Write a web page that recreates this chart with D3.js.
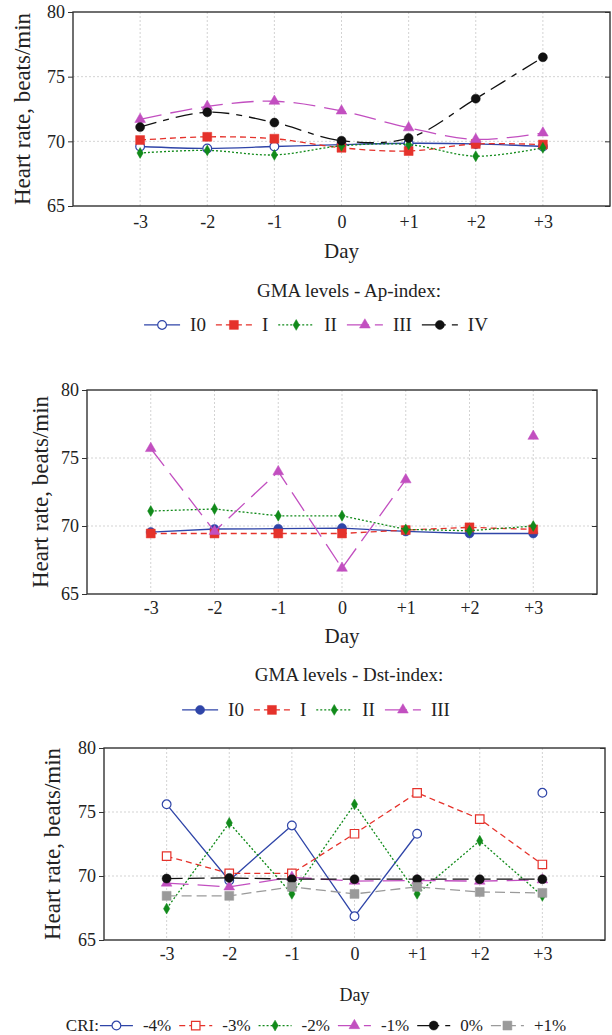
<!DOCTYPE html>
<html>
<head>
<meta charset="utf-8">
<script src="https://cdn.jsdelivr.net/npm/d3@7"></script>
<style>
body { margin: 0; background: #fff; }
text { font-family: "Liberation Serif", "Times New Roman", serif; fill: #222; }
</style>
</head>
<body>
<svg id="chart"></svg>
<script>
// x categories and y ticks shared by the three panels
const dayNums = [-3, -2, -1, 0, 1, 2, 3];
const dayLabels = ["-3", "-2", "-1", "0", "+1", "+2", "+3"];
const yTicks = [65, 70, 75, 80];

// panel 1: GMA levels by Ap-index
const apNames = ["I0", "I", "II", "III", "IV"];
const apI0 = [69.6, 69.45, 69.6, 69.75, 69.85, 69.8, 69.6];
const apI = [70.1, 70.35, 70.2, 69.5, 69.25, 69.8, 69.75];
const apII = [69.1, 69.3, 68.95, 69.65, 69.75, 68.85, 69.5];
const apIII = [71.7, 72.7, 73.1, 72.35, 71.05, 70.15, 70.65];
const apIV = [71.1, 72.25, 71.45, 70.05, 70.25, 73.3, 76.5];

// panel 2: GMA levels by Dst-index (null = no value)
const dstNames = ["I0", "I", "II", "III"];
const dstI0 = [69.55, 69.78, 69.8, 69.85, 69.6, 69.45, 69.45];
const dstI = [69.45, 69.45, 69.45, 69.45, 69.7, 69.9, 69.75];
const dstII = [71.1, 71.25, 70.75, 70.75, 69.75, 69.65, 70.0];
const dstIII = [75.7, 69.6, 74.0, 66.9, 73.4, null, 76.6];

// panel 3: CRI
const criNames = ["-4%", "-3%", "-2%", "-1%", "0%", "+1%"];
const criM4 = [75.6, 69.65, 73.95, 66.85, 73.3, null, 76.5];
const criM3 = [71.55, 70.2, 70.2, 73.3, 76.5, 74.45, 70.9];
const criM2 = [67.45, 74.15, 68.6, 75.6, 68.6, 72.75, 68.45];
const criM1 = [69.45, 69.15, 69.9, 69.6, 69.65, 69.6, 69.7];
const cri0 = [69.8, 69.85, 69.75, 69.75, 69.75, 69.75, 69.75];
const criP1 = [68.45, 68.45, 69.15, 68.6, 69.15, 68.75, 68.68];

const W = 612, H = 1035;
const svg = d3.select("#chart").attr("width", W).attr("height", H);

const blue = "#2f45a8", red = "#e5322b", green = "#118a1a",
      magenta = "#c24fc0", black = "#111", gray = "#9a9a9a";

const styles = {
  solid: null,
  dashed: "6,4",
  dotted: "2,2",
  longdash: "22,9",
  dashdot: "17,7,6,7",
  dash0: "16,6",
  grayDash: "10,5"
};

function marker(g, type, color, cx, cy) {
  const shapes = {
    circle: [d3.symbolCircle, 64],
    circleOpen: [d3.symbolCircle, 60],
    square: [d3.symbolSquare, 80],
    squareOpen: [d3.symbolSquare, 72],
    diamond: [d3.symbolDiamond, 34],
    triangle: [d3.symbolTriangle, 50]
  };
  const s = shapes[type];
  const open = type.endsWith("Open");
  g.append("path")
    .attr("d", d3.symbol().type(s[0]).size(s[1])())
    .attr("transform", "translate(" + cx + "," + cy + ")")
    .attr("fill", open ? "#fff" : color)
    .attr("stroke", color)
    .attr("stroke-width", open ? 1.2 : 0.5);
}

function drawPanel(p) {
  const x = d3.scaleLinear().domain([-4, 4]).range([p.left, p.right]);
  const y = d3.scaleLinear().domain([65, 80]).range([p.bottom, p.top]);
  const g = svg.append("g");

  // grid
  g.selectAll(".vg").data(dayNums).enter().append("line")
    .attr("x1", d => x(d)).attr("x2", d => x(d))
    .attr("y1", p.top).attr("y2", p.bottom)
    .attr("stroke", "#c8c8c8").attr("stroke-width", 0.8).attr("stroke-dasharray", "2,2");
  g.selectAll(".hg").data([70, 75]).enter().append("line")
    .attr("x1", p.left).attr("x2", p.right)
    .attr("y1", d => y(d)).attr("y2", d => y(d))
    .attr("stroke", "#c8c8c8").attr("stroke-width", 0.8).attr("stroke-dasharray", "2,2");

  // axes
  const yAxis = g.append("g").attr("transform", "translate(" + p.left + ",0)")
    .call(d3.axisLeft(y).tickValues(yTicks).tickSize(5).tickPadding(3));
  yAxis.select(".domain").remove();
  yAxis.selectAll("text").style("font-size", "18px").attr("fill", "#222");
  yAxis.selectAll("line").attr("stroke", "#333");

  const rAxis = g.append("g").attr("transform", "translate(" + p.right + ",0)")
    .call(d3.axisRight(y).tickValues(yTicks).tickSize(-5).tickFormat(""));
  rAxis.select(".domain").remove();
  rAxis.selectAll("line").attr("stroke", "#333");

  const xAxis = g.append("g").attr("transform", "translate(0," + p.bottom + ")")
    .call(d3.axisBottom(x).tickValues(dayNums).tickSize(0).tickPadding(p.xPad)
      .tickFormat((d, i) => dayLabels[i]));
  xAxis.select(".domain").remove();
  xAxis.selectAll("text").style("font-size", "18px").attr("fill", "#222");

  // frame
  g.append("rect")
    .attr("x", p.left).attr("y", p.top)
    .attr("width", p.right - p.left).attr("height", p.bottom - p.top)
    .attr("fill", "none").attr("stroke", "#333").attr("stroke-width", 1.4);

  // series
  const line = d3.line()
    .defined(d => d[1] != null)
    .x(d => x(d[0])).y(d => y(d[1]))
    .curve(p.curve);
  p.series.forEach(s => {
    const pts = dayNums.map((d, i) => [d, s.values[i]]);
    g.append("path").datum(pts)
      .attr("d", line)
      .attr("fill", "none")
      .attr("stroke", s.color)
      .attr("stroke-width", 1.3)
      .attr("stroke-dasharray", s.dash);
    pts.filter(d => d[1] != null).forEach(d => marker(g, s.marker, s.color, x(d[0]), y(d[1])));
  });

  // axis titles
  g.append("text")
    .attr("transform", "translate(" + p.yTitleX + "," + ((p.top + p.bottom) / 2) + ") rotate(-90)")
    .attr("text-anchor", "middle").attr("dy", "0.35em")
    .style("font-size", "23px")
    .text("Heart rate, beats/min");
  g.append("text")
    .attr("x", (p.left + p.right) / 2).attr("y", p.dayY)
    .attr("text-anchor", "middle")
    .style("font-size", p.dayFs + "px")
    .text("Day");

  if (p.legendTitle) {
    g.append("text")
      .attr("x", 349).attr("y", p.legendTitleY)
      .attr("text-anchor", "middle")
      .style("font-size", "19px")
      .text(p.legendTitle);
  }

  // legend row, laid out left to right, then centred
  const leg = g.append("g");
  let cx = 0;
  if (p.legendPrefix) {
    const t = leg.append("text").attr("x", 0).attr("y", p.legendY)
      .style("font-size", p.legendFs + "px").text(p.legendPrefix);
    cx = t.node().getComputedTextLength() + 1;
  }
  p.series.forEach((s, i) => {
    const my = p.legendY - p.legendFs * 0.32;
    leg.append("line")
      .attr("x1", cx).attr("x2", cx + p.sampleW)
      .attr("y1", my).attr("y2", my)
      .attr("stroke", s.color).attr("stroke-width", 1.3)
      .attr("stroke-dasharray", s.legendDash || s.dash);
    marker(leg, s.marker, s.color, cx + p.sampleW / 2, my);
    cx += p.sampleW + 10;
    const t = leg.append("text").attr("x", cx).attr("y", p.legendY)
      .style("font-size", p.legendFs + "px").text(s.name);
    cx += t.node().getComputedTextLength();
    if (i < p.series.length - 1) cx += p.itemGap;
  });
  leg.attr("transform", "translate(" + (316 - cx / 2) + ",0)");
}

drawPanel({
  left: 73, right: 610, top: 12, bottom: 206, xPad: 9,
  curve: d3.curveCatmullRom.alpha(0.5),
  yTitleX: 22, dayY: 258, dayFs: 21,
  legendTitle: "GMA levels - Ap-index:", legendTitleY: 297,
  legendY: 331, legendFs: 19, sampleW: 36, itemGap: 10,
  series: [
    { name: apNames[0], values: apI0, color: blue, dash: styles.solid, marker: "circleOpen" },
    { name: apNames[1], values: apI, color: red, dash: styles.dashed, marker: "square" },
    { name: apNames[2], values: apII, color: green, dash: styles.dotted, marker: "diamond" },
    { name: apNames[3], values: apIII, color: magenta, dash: styles.longdash, marker: "triangle", legendDash: "22,6" },
    { name: apNames[4], values: apIV, color: black, dash: styles.dashdot, marker: "circle", legendDash: "24,6" }
  ]
});

drawPanel({
  left: 87, right: 597, top: 390, bottom: 594, xPad: 7,
  curve: d3.curveLinear,
  yTitleX: 40, dayY: 643, dayFs: 21,
  legendTitle: "GMA levels - Dst-index:", legendTitleY: 681,
  legendY: 716, legendFs: 19, sampleW: 36, itemGap: 10,
  series: [
    { name: dstNames[0], values: dstI0, color: blue, dash: styles.solid, marker: "circle" },
    { name: dstNames[1], values: dstI, color: red, dash: styles.dashed, marker: "square" },
    { name: dstNames[2], values: dstII, color: green, dash: styles.dotted, marker: "diamond" },
    { name: dstNames[3], values: dstIII, color: magenta, dash: styles.longdash, marker: "triangle", legendDash: "22,6" }
  ]
});

drawPanel({
  left: 104, right: 605, top: 748, bottom: 940, xPad: 7,
  curve: d3.curveLinear,
  yTitleX: 52, dayY: 1001, dayFs: 18,
  legendPrefix: "CRI:",
  legendY: 1031, legendFs: 17, sampleW: 33, itemGap: 8,
  series: [
    { name: criNames[0], values: criM4, color: blue, dash: styles.solid, marker: "circleOpen" },
    { name: criNames[1], values: criM3, color: red, dash: styles.dashed, marker: "squareOpen" },
    { name: criNames[2], values: criM2, color: green, dash: styles.dotted, marker: "diamond" },
    { name: criNames[3], values: criM1, color: magenta, dash: styles.longdash, marker: "triangle", legendDash: "20,6" },
    { name: criNames[4], values: cri0, color: black, dash: styles.dash0, marker: "circle", legendDash: "22,6" },
    { name: criNames[5], values: criP1, color: gray, dash: styles.grayDash, marker: "square", legendDash: null }
  ]
});
</script>
</body>
</html>
